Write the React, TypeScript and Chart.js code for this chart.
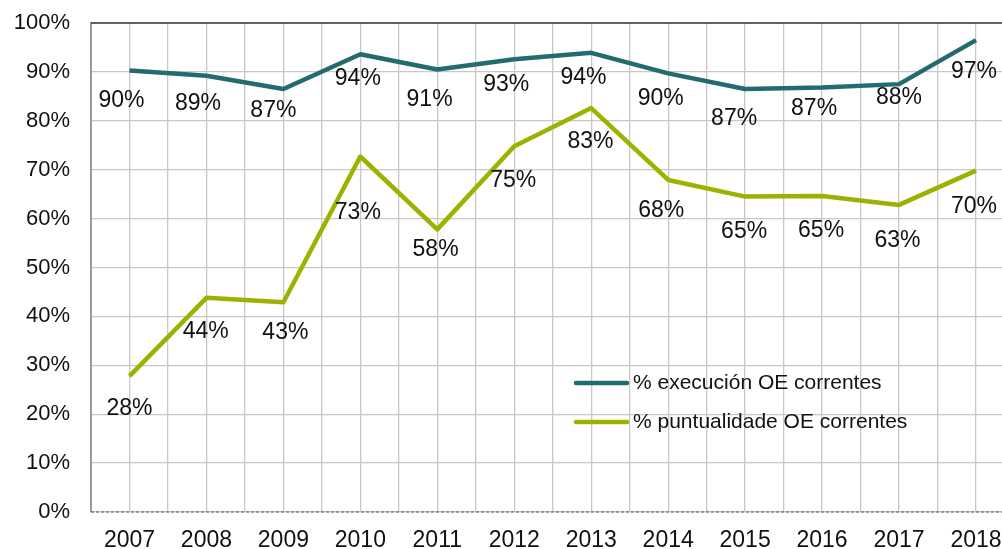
import React, { useEffect, useRef } from "react";
import { Chart, registerables } from "chart.js";

Chart.register(...registerables);

const years = [2007, 2008, 2009, 2010, 2011, 2012, 2013, 2014, 2015, 2016, 2017, 2018];
const execucion = [90.3, 89.2, 86.5, 93.6, 90.5, 92.6, 93.9, 89.7, 86.5, 86.8, 87.5, 96.5];
const puntualidade = [27.8, 43.8, 42.9, 72.7, 57.8, 74.8, 82.6, 67.9, 64.5, 64.6, 62.8, 69.8];
const yTicks = [0, 10, 20, 30, 40, 50, 60, 70, 80, 90, 100];
const seriesNames = ["% execución OE correntes", "% puntualidade OE correntes"];

// label placement tweaks (pixels relative to each point)
const execLabelDx = [-8, -8.5, -10, -2.5, -7.7, -8, -7.7, -7.5, -11, -8, 0, -2];
const execLabelDy = [30, 28, 22, 24.5, 30, 25, 25, 25, 30, 21, 14, 32];
const puntLabelDx = [0, -0.7, 2, -2.5, -1.7, -1, -0.7, -7, -1, -1, -1.5, -2];
const puntLabelDy = [32.5, 34, 30, 56, 20, 34.5, 34, 30.5, 35, 35, 35.5, 35.5];

const TEAL = "#226b6e";
const LIME = "#9db200";
const FONT = "'Liberation Sans', Arial, sans-serif";

const labelPlugin = {
  id: "customLabels",
  afterDatasetsDraw(chart: any) {
    const ctx = chart.ctx;
    const a = chart.chartArea;
    ctx.save();
    // dashed bottom axis line
    ctx.strokeStyle = "#555";
    ctx.lineWidth = 1.2;
    ctx.setLineDash([3, 2]);
    ctx.beginPath();
    ctx.moveTo(a.left, a.bottom);
    ctx.lineTo(a.right, a.bottom);
    ctx.stroke();
    ctx.setLineDash([]);
    // top border
    ctx.strokeStyle = "#3a3a3a";
    ctx.lineWidth = 1.5;
    ctx.beginPath();
    ctx.moveTo(a.left, a.top);
    ctx.lineTo(a.right, a.top);
    ctx.stroke();

    ctx.font = `23px ${FONT}`;
    ctx.fillStyle = "#111";
    ctx.textAlign = "center";
    ctx.textBaseline = "middle";
    const offs = [
      [execLabelDx, execLabelDy],
      [puntLabelDx, puntLabelDy],
    ];
    chart.data.datasets.forEach((ds: any, di: number) => {
      const meta = chart.getDatasetMeta(di);
      meta.data.forEach((pt: any, i: number) => {
        const v = ds.data[i].y;
        ctx.fillText(Math.round(v) + "%", pt.x + offs[di][0][i], pt.y + offs[di][1][i]);
      });
    });
    // legend
    const colors = [TEAL, LIME];
    ctx.font = `21px ${FONT}`;
    ctx.textAlign = "left";
    seriesNames.forEach((name, i) => {
      const y = 383 + i * 39;
      ctx.strokeStyle = colors[i];
      ctx.lineWidth = 4.5;
      ctx.lineCap = "round";
      ctx.beginPath();
      ctx.moveTo(576, y);
      ctx.lineTo(627, y);
      ctx.stroke();
      ctx.fillStyle = "#111";
      ctx.fillText(name, 633, y);
    });
    ctx.restore();
  },
};

export default function App() {
  const ref = useRef<HTMLCanvasElement | null>(null);
  useEffect(() => {
    if (!ref.current) return;
    const chart = new Chart(ref.current, {
      type: "line",
      data: {
        datasets: [
          {
            label: seriesNames[0],
            data: years.map((x, i) => ({ x, y: execucion[i] })),
            borderColor: TEAL,
            backgroundColor: TEAL,
            borderWidth: 4.5,
            pointRadius: 0,
            tension: 0,
            borderJoinStyle: "round",
          },
          {
            label: seriesNames[1],
            data: years.map((x, i) => ({ x, y: puntualidade[i] })),
            borderColor: LIME,
            backgroundColor: LIME,
            borderWidth: 4.5,
            pointRadius: 0,
            tension: 0,
            borderJoinStyle: "round",
          },
        ],
      },
      options: {
        responsive: false,
        animation: false,
        layout: { padding: { top: 23, right: 0, left: 0, bottom: 0 } },
        plugins: { legend: { display: false }, tooltip: { enabled: false } },
        scales: {
          x: {
            type: "linear",
            min: 2006.5,
            max: 2018.338,
            afterBuildTicks: (scale: any) => {
              const t: any[] = [];
              for (let v = years[0] - 0.5; v <= years[years.length - 1] + 1e-6; v += 0.5) t.push({ value: v });
              scale.ticks = t;
            },
            afterFit: (scale: any) => {
              scale.height = 37;
              scale.paddingLeft = 0;
              scale.paddingRight = 0;
            },
            ticks: {
              autoSkip: false,
              maxRotation: 0,
              padding: 15,
              color: "#111",
              font: { family: FONT, size: 23 },
              callback: (v: any) => (Number.isInteger(v) ? String(v) : ""),
            },
            grid: { color: "#c8c8c8", lineWidth: 1.3, drawTicks: false },
            border: { display: false },
          },
          y: {
            min: 0,
            max: 100,
            afterBuildTicks: (scale: any) => {
              scale.ticks = yTicks.map((v) => ({ value: v }));
            },
            afterFit: (scale: any) => {
              scale.width = 91;
              scale.paddingTop = 0;
              scale.paddingBottom = 0;
            },
            ticks: {
              padding: 21,
              color: "#111",
              font: { family: FONT, size: 22 },
              callback: (v: any) => v + "%",
            },
            grid: { color: "#c8c8c8", lineWidth: 1.3, drawTicks: false },
            border: { display: true, color: "#9a9a9a", width: 2 },
          },
        },
      },
      plugins: [labelPlugin],
    } as any);
    return () => chart.destroy();
  }, []);
  return (
    <div style={{ position: "fixed", left: 0, top: 0, width: 1002, height: 549, background: "#fff" }}>
      <canvas ref={ref} width={1002} height={549} style={{ display: "block" }} />
    </div>
  );
}
